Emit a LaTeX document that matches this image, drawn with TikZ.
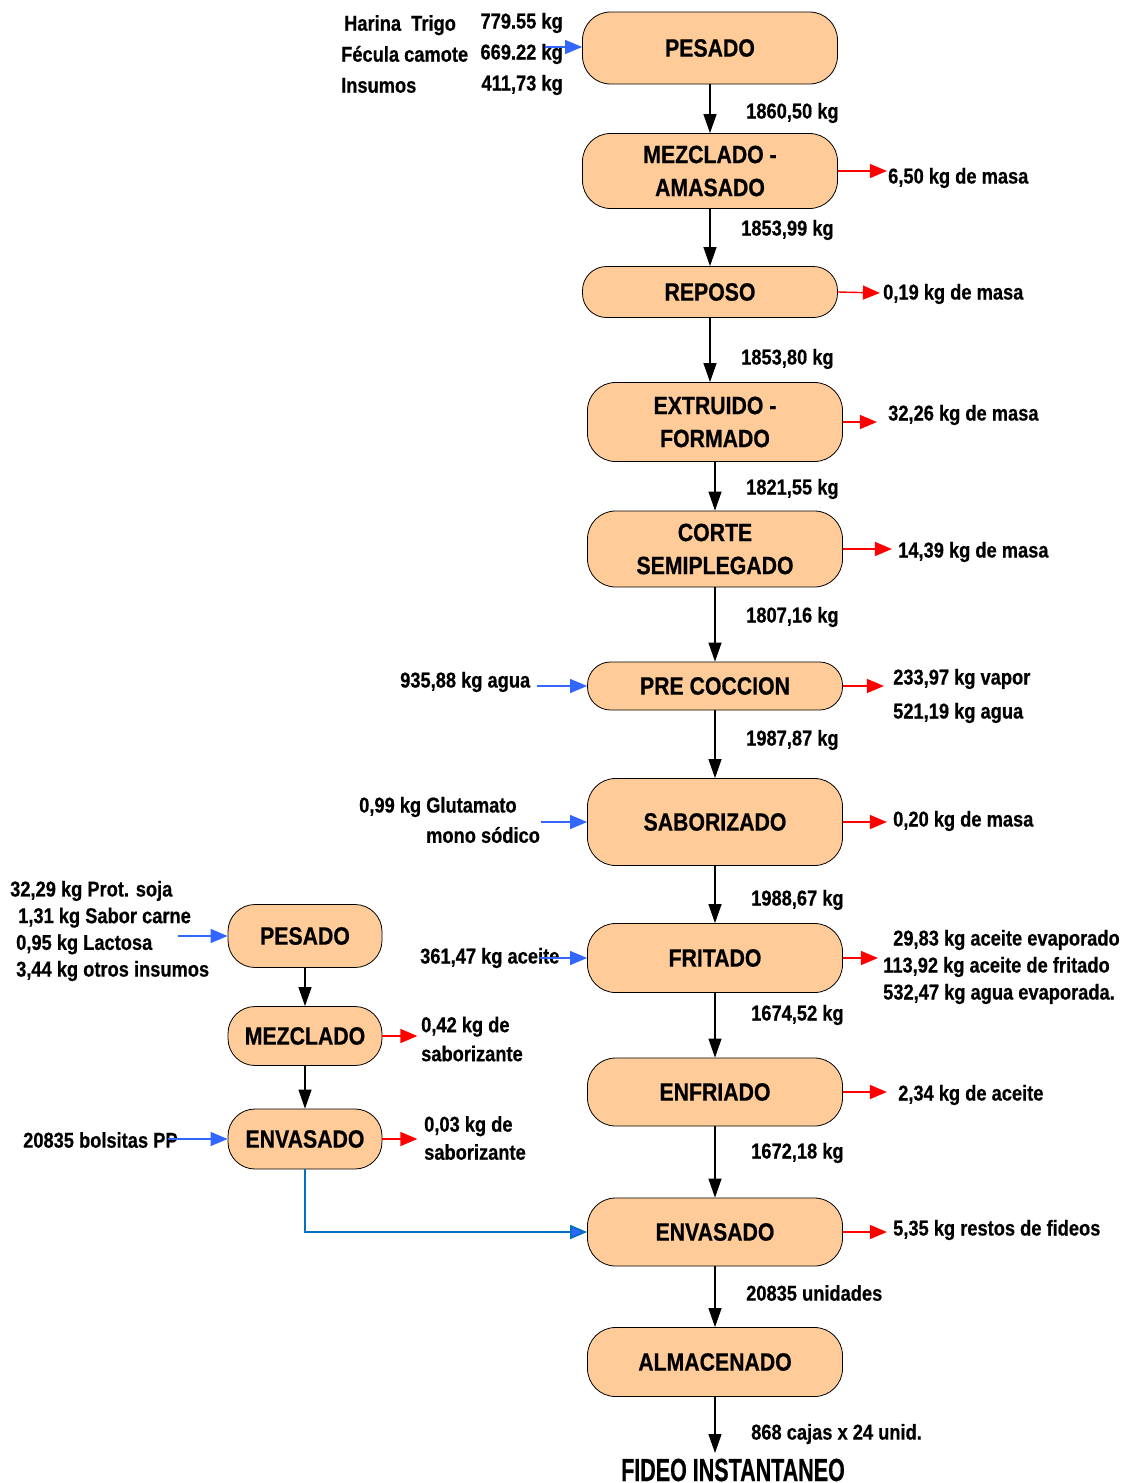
\documentclass[tikz,border=0pt]{standalone}
\usepackage{fontspec}
\setmainfont{Liberation Sans}[FakeStretch=0.85, BoldFeatures={FakeBold=0.6}]
\usetikzlibrary{arrows.meta}
\definecolor{boxfill}{RGB}{255,204,153}
\definecolor{inblue}{RGB}{51,102,255}
\definecolor{linkblue}{RGB}{0,112,192}
\definecolor{outred}{RGB}{255,0,0}
\newcommand\lblfont[1]{\fontsize{21.5}{#1}\selectfont\bfseries}
\tikzset{
  procbox/.style={draw=black, line width=0.8pt, fill=boxfill, align=center,
    minimum width=255pt, inner sep=0pt, rounded corners=28pt,
    font=\fontsize{25}{33}\selectfont\bfseries},
  smallbox/.style={procbox, minimum width=154pt, rounded corners=27pt},
  lbl/.style={inner sep=0pt, align=left, yshift=-2pt, font=\lblfont{27}},
  flow/.style={draw=black, line width=1.1pt, -{Triangle[length=19pt,width=13pt]}},
  inflow/.style={draw=inblue, line width=1.2pt, -{Triangle[length=17pt,width=14pt]}},
  outflow/.style={draw=outred, line width=1.4pt, -{Triangle[length=17pt,width=14pt]}},
  linkflow/.style={draw=linkblue, line width=1.8pt, -{Triangle[length=17pt,width=14pt,fill=inblue]}},
}
\begin{document}
\begin{tikzpicture}[x=1pt, y=-1pt]
\useasboundingbox (0,0) rectangle (1135,1483);

% main process line
\node[procbox, minimum height=72pt] (b1) at (710,48) {PESADO};
\node[procbox, minimum height=75pt] (b2) at (710,171) {MEZCLADO -\\AMASADO};
\node[procbox, minimum height=51pt, rounded corners=24pt] (b3) at (710,292) {REPOSO};
\node[procbox, minimum height=79pt] (b4) at (715,422) {EXTRUIDO -\\FORMADO};
\node[procbox, minimum height=76pt] (b5) at (715,549) {CORTE\\SEMIPLEGADO};
\node[procbox, minimum height=48pt, rounded corners=23pt] (b6) at (715,686) {PRE COCCION};
\node[procbox, minimum height=87pt] (b7) at (715,822) {SABORIZADO};
\node[procbox, minimum height=69pt] (b8) at (715,958) {FRITADO};
\node[procbox, minimum height=68pt] (b9) at (715,1092) {ENFRIADO};
\node[procbox, minimum height=68pt] (b10) at (715,1232) {ENVASADO};
\node[procbox, minimum height=69pt] (b11) at (715,1362) {ALMACENADO};
\node[inner sep=0pt, font=\fontsize{32}{36}\selectfont\bfseries] (prod) at (733,1470) {\scalebox{0.79}[1]{FIDEO INSTANTANEO}};

% seasoning line
\node[smallbox, minimum height=63pt] (s1) at (305,936) {PESADO};
\node[smallbox, minimum height=59pt] (s2) at (305,1036) {MEZCLADO};
\node[smallbox, minimum height=60pt] (s3) at (305,1139) {ENVASADO};

% main flow
\draw[flow] (b1.south) -- (b2.north);
\draw[flow] (b2.south) -- (b3.north);
\draw[flow] (b3.south) -- (b3.south |- b4.north);
\draw[flow] (b4.south) -- (b5.north);
\draw[flow] (b5.south) -- (b6.north);
\draw[flow] (b6.south) -- (b7.north);
\draw[flow] (b7.south) -- (b8.north);
\draw[flow] (b8.south) -- (b9.north);
\draw[flow] (b9.south) -- (b10.north);
\draw[flow] (b10.south) -- (b11.north);
\coordinate (pend) at (715,1453);
\draw[flow] (b11.south) -- (pend);
\draw[flow] (s1.south) -- (s2.north);
\draw[flow] (s2.south) -- (s3.north);
\draw[linkflow] (s3.south) |- (b10.west);

% flow quantities
\node[lbl, anchor=west] (q1) at (746,111) {1860,50 kg};
\node[lbl, anchor=west] (q2) at (741,228) {1853,99 kg};
\node[lbl, anchor=west] (q3) at (741,357) {1853,80 kg};
\node[lbl, anchor=west] (q4) at (746,487) {1821,55 kg};
\node[lbl, anchor=west] (q5) at (746,615) {1807,16 kg};
\node[lbl, anchor=west] (q6) at (746,738) {1987,87 kg};
\node[lbl, anchor=west] (q7) at (751,898) {1988,67 kg};
\node[lbl, anchor=west] (q8) at (751,1013) {1674,52 kg};
\node[lbl, anchor=west] (q9) at (751,1151) {1672,18 kg};
\node[lbl, anchor=west] (q10) at (746,1291) {20835 unidades};
\node[lbl, anchor=west] (q11) at (751,1432) {868 cajas x 24 unid.};

% inputs
\node[lbl, anchor=west, font=\lblfont{31}] (i1a) at (341,52) {\hspace*{3pt}Harina\ \ Trigo\\F\'ecula camote\\Insumos};
\node[lbl, anchor=east, align=right, font=\lblfont{31}] (i1b) at (563,52) {779.55 kg\\669.22 kg\\411,73 kg};
\coordinate (i1s) at (545,47);
\draw[inflow] (i1s) -- (b1.west |- i1s);

\node[lbl, anchor=west] (i6) at (400,680) {935,88 kg agua};
\coordinate (i6s) at (537,686);
\draw[inflow] (i6s) -- (b6.west);

\node[lbl, anchor=west] (i7a) at (359,805) {0,99 kg Glutamato};
\node[lbl, anchor=west] (i7b) at (426,833) {mono s\'odico};
\coordinate (i7s) at (541,822);
\draw[inflow] (i7s) -- (b7.west);

\node[lbl, anchor=west] (i8) at (420,956) {361,47 kg aceite};
\coordinate (i8s) at (540,958);
\draw[inflow] (i8s) -- (b8.west);

\node[lbl, anchor=west, font=\lblfont{26.7}] (is1) at (10,929) {32,29 kg Prot. soja\\\hspace*{8pt}1,31 kg Sabor carne\\\hspace*{6pt}0,95 kg Lactosa\\\hspace*{6pt}3,44 kg otros insumos};
\coordinate (is1s) at (178,936);
\draw[inflow] (is1s) -- (s1.west);

\node[lbl, anchor=west] (is3) at (23,1138) {20835 bolsitas PP};
\coordinate (is3s) at (168,1139);
\draw[inflow] (is3s) -- (s3.west);

% outputs
\draw[outflow] (b2.east) -- ++(49,0) coordinate (o2e);
\node[lbl, anchor=west] (o2) at (888,176) {6,50 kg de masa};
\draw[outflow] (b3.east) -- ++(42,1) coordinate (o3e);
\node[lbl, anchor=west] (o3) at (883,292) {0,19 kg de masa};
\draw[outflow] (b4.east) -- ++(34,0) coordinate (o4e);
\node[lbl, anchor=west] (o4) at (888,413) {32,26 kg de masa};
\draw[outflow] (b5.east) -- ++(49,0) coordinate (o5e);
\node[lbl, anchor=west] (o5) at (898,550) {14,39 kg de masa};
\draw[outflow] (b6.east) -- ++(41,0) coordinate (o6e);
\node[lbl, anchor=west, font=\lblfont{34}] (o6) at (893,694) {233,97 kg vapor\\521,19 kg agua};
\draw[outflow] (b7.east) -- ++(44,0) coordinate (o7e);
\node[lbl, anchor=west] (o7) at (893,819) {0,20 kg de masa};
\draw[outflow] (b8.east) -- ++(35,0) coordinate (o8e);
\node[lbl, anchor=west, font=\lblfont{27}] (o8) at (883,965) {\hspace*{10pt}29,83 kg aceite evaporado\\113,92 kg aceite de fritado\\532,47 kg agua evaporada.};
\draw[outflow] (b9.east) -- ++(44,0) coordinate (o9e);
\node[lbl, anchor=west] (o9) at (898,1093) {2,34 kg de aceite};
\draw[outflow] (b10.east) -- ++(44,0) coordinate (o10e);
\node[lbl, anchor=west] (o10) at (893,1228) {5,35 kg restos de fideos};

\draw[outflow] (s2.east) -- ++(35,0) coordinate (os2e);
\node[lbl, anchor=west, font=\lblfont{29}] (os2) at (421,1037) {0,42 kg de\\saborizante};
\draw[outflow] (s3.east) -- ++(35,0) coordinate (os3e);
\node[lbl, anchor=west, font=\lblfont{28}] (os3) at (424,1136) {0,03 kg de\\saborizante};
\end{tikzpicture}
\end{document}
